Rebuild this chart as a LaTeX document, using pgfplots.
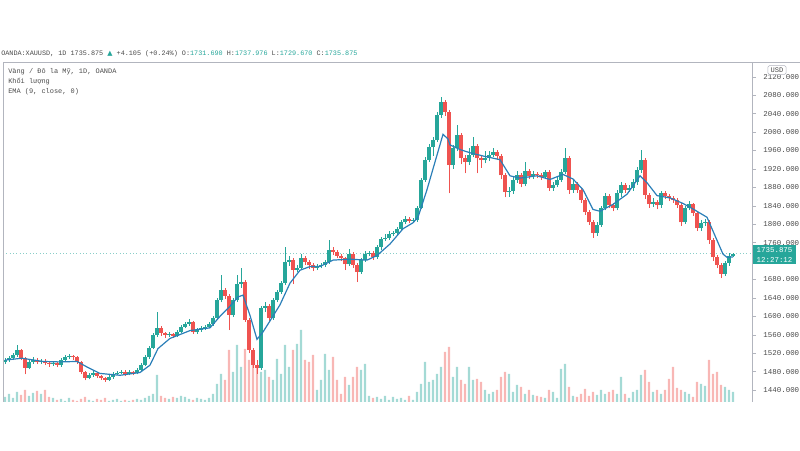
\documentclass[border=0pt]{standalone}
\usepackage{fontspec}
\setmainfont{DejaVu Sans}
\newfontfamily\monof{Liberation Mono}
\newfontfamily\symf{DejaVu Sans}
\usepackage{pgfplots}
\pgfplotsset{compat=1.18}
\usepackage{pgfplotstable}
\definecolor{upc}{HTML}{26A69A}
\definecolor{dnc}{HTML}{EF5350}
\definecolor{emac}{HTML}{2B7FB8}
\definecolor{framec}{HTML}{B2B5BE}
\definecolor{txt}{HTML}{4A4A4A}

% daily candles: index, open, high, low, close, volume (volume in px of bar height)
\pgfplotstableread{
i o h l c v
0 1500 1510 1496 1505 5
1 1505 1514 1501 1509 8
2 1509 1520 1505 1516 4
3 1516 1538 1512 1527 10
4 1527 1530 1505 1509 7
5 1509 1512 1474 1488 12
6 1488 1506 1485 1501 6
7 1501 1512 1497 1505 9
8 1505 1509 1496 1501 11
9 1501 1508 1497 1503 8
10 1503 1507 1494 1498 12
11 1498 1502 1490 1496 5
12 1496 1503 1492 1498 4
13 1498 1501 1489 1494 2
14 1494 1509 1491 1505 3
15 1505 1516 1502 1511 1
16 1511 1519 1508 1514 4
17 1514 1517 1506 1511 2
18 1511 1513 1497 1501 1
19 1501 1503 1475 1479 3
20 1479 1482 1461 1466 5
21 1466 1477 1463 1472 2
22 1472 1481 1469 1477 1
23 1477 1480 1466 1470 3
24 1470 1473 1462 1466 2
25 1466 1469 1458 1462 4
26 1462 1472 1459 1468 1
27 1468 1479 1465 1475 2
28 1475 1481 1472 1477 3
29 1477 1484 1474 1480 1
30 1480 1483 1471 1475 2
31 1475 1483 1472 1479 1
32 1479 1482 1472 1476 2
33 1476 1487 1474 1483 3
34 1483 1498 1481 1494 2
35 1494 1515 1492 1511 4
36 1511 1536 1508 1531 6
37 1531 1564 1528 1559 8
38 1559 1610 1555 1574 27
39 1574 1578 1558 1563 6
40 1563 1567 1554 1559 4
41 1559 1566 1555 1561 3
42 1561 1564 1553 1558 5
43 1558 1570 1555 1566 4
44 1566 1581 1563 1577 6
45 1577 1588 1574 1583 5
46 1583 1594 1579 1587 3
47 1587 1590 1562 1566 2
48 1566 1575 1562 1570 4
49 1570 1578 1566 1574 3
50 1574 1581 1571 1577 2
51 1577 1588 1574 1583 4
52 1583 1600 1580 1596 8
53 1596 1640 1593 1635 18
54 1635 1689 1630 1657 28
55 1657 1662 1638 1644 22
56 1644 1648 1570 1603 52
57 1603 1640 1598 1635 30
58 1635 1690 1631 1670 57
59 1670 1705 1662 1674 35
60 1674 1678 1588 1592 53
61 1592 1596 1520 1527 42
62 1527 1532 1488 1494 38
63 1494 1505 1475 1488 35
64 1488 1622 1484 1618 30
65 1618 1630 1610 1622 32
66 1622 1626 1590 1596 25
67 1596 1640 1592 1635 22
68 1635 1657 1630 1652 43
69 1652 1677 1648 1672 28
70 1672 1750 1668 1718 57
71 1718 1730 1710 1722 35
72 1722 1726 1670 1700 52
73 1700 1712 1696 1705 58
74 1705 1735 1700 1726 72
75 1726 1730 1712 1718 42
76 1718 1722 1702 1711 40
77 1711 1715 1698 1705 47
78 1705 1714 1700 1709 12
79 1709 1716 1704 1711 22
80 1711 1723 1707 1718 48
81 1718 1765 1714 1744 32
82 1744 1750 1733 1740 45
83 1740 1745 1726 1731 22
84 1731 1735 1720 1726 8
85 1726 1729 1700 1713 25
86 1713 1746 1709 1735 17
87 1735 1739 1705 1711 25
88 1711 1715 1674 1696 35
89 1696 1727 1692 1722 32
90 1722 1742 1718 1735 38
91 1735 1742 1730 1737 6
92 1737 1741 1723 1728 4
93 1728 1755 1725 1750 5
94 1750 1773 1745 1768 3
95 1768 1778 1763 1770 6
96 1770 1785 1766 1778 2
97 1778 1786 1774 1780 5
98 1780 1794 1776 1789 3
99 1789 1810 1786 1804 4
100 1804 1817 1800 1811 2
101 1811 1815 1802 1807 6
102 1807 1814 1803 1809 2
103 1809 1840 1805 1835 10
104 1835 1901 1832 1896 18
105 1896 1946 1892 1939 40
106 1939 1973 1935 1967 20
107 1967 1990 1948 1982 22
108 1982 2043 1978 2037 28
109 2037 2076 2030 2065 35
110 2065 2070 2035 2043 50
111 2043 2048 1867 1928 55
112 1928 1972 1920 1965 25
113 1965 2015 1958 1993 35
114 1993 1998 1930 1943 22
115 1943 1950 1910 1935 18
116 1935 1965 1928 1950 35
117 1950 1990 1945 1969 22
118 1969 1973 1910 1943 23
119 1943 1950 1922 1939 20
120 1939 1958 1932 1943 12
121 1943 1958 1938 1950 8
122 1950 1965 1945 1956 10
123 1956 1962 1940 1948 12
124 1948 1952 1898 1906 25
125 1906 1912 1858 1870 30
126 1870 1880 1860 1872 28
127 1872 1905 1866 1896 10
128 1896 1915 1890 1906 17
129 1906 1912 1880 1887 15
130 1887 1935 1882 1915 8
131 1915 1920 1898 1904 12
132 1904 1915 1898 1909 7
133 1909 1913 1900 1906 6
134 1906 1910 1896 1902 5
135 1902 1918 1898 1913 4
136 1913 1917 1872 1878 12
137 1878 1892 1873 1885 10
138 1885 1902 1880 1896 4
139 1896 1920 1891 1913 33
140 1913 1965 1908 1943 38
141 1943 1948 1866 1874 15
142 1874 1895 1868 1887 6
143 1887 1892 1868 1874 5
144 1874 1878 1846 1852 8
145 1852 1856 1820 1826 13
146 1826 1830 1798 1804 6
147 1804 1808 1770 1781 10
148 1781 1805 1775 1798 7
149 1798 1840 1794 1835 12
150 1835 1868 1830 1861 8
151 1861 1865 1835 1841 10
152 1841 1846 1828 1835 12
153 1835 1874 1830 1867 8
154 1867 1892 1860 1885 25
155 1885 1890 1868 1874 8
156 1874 1885 1870 1878 4
157 1878 1897 1872 1891 10
158 1891 1925 1886 1917 12
159 1917 1961 1912 1939 27
160 1939 1944 1855 1863 32
161 1863 1868 1836 1843 20
162 1843 1856 1838 1848 10
163 1848 1853 1832 1841 12
164 1841 1873 1836 1867 8
165 1867 1872 1855 1861 12
166 1861 1866 1850 1857 23
167 1857 1862 1846 1852 35
168 1852 1856 1835 1841 14
169 1841 1845 1797 1804 12
170 1804 1840 1800 1835 10
171 1835 1850 1830 1843 8
172 1843 1847 1818 1824 5
173 1824 1828 1785 1791 20
174 1791 1810 1786 1802 18
175 1802 1812 1796 1804 16
176 1804 1808 1758 1765 42
177 1765 1770 1720 1728 28
178 1728 1733 1704 1711 30
179 1711 1715 1683 1692 17
180 1692 1720 1688 1715 15
181 1715 1737 1710 1731 12
182 1731.69 1737.976 1729.67 1735.875 10
}\ohlc

\pgfplotsset{
  candle/.style n args={2}{draw=none, mark=none, forget plot,
    error bars/y dir=plus, error bars/y explicit, error bars/error mark=none,
    error bars/error bar style={line width=#1, draw=#2, solid}},
}

\begin{document}
\begin{tikzpicture}
\path[use as bounding box] (0,0) rectangle (600pt,337.5pt);

% volume pane (same x range, own scale)
\begin{axis}[at={(2.25pt,36pt)}, anchor=south west, scale only axis,
  width=561.75pt, height=255pt,
  xmin=-0.5, xmax=186.75, ymin=0, ymax=340, hide axis]
\addplot[ybar, bar width=0.6, bar shift=0pt, draw=none, fill=upc!42!white,
  restrict expr to domain={\thisrow{c}-\thisrow{o}}{0:10000}]
  table[x=i, y=v] {\ohlc};
\addplot[ybar, bar width=0.6, bar shift=0pt, draw=none, fill=dnc!42!white,
  restrict expr to domain={\thisrow{o}-\thisrow{c}}{0.0001:10000}]
  table[x=i, y=v] {\ohlc};
\end{axis}

% price pane
\begin{axis}[at={(2.25pt,36pt)}, anchor=south west, scale only axis,
  width=561.75pt, height=255pt,
  xmin=-0.5, xmax=186.75, ymin=1414, ymax=2152,
  axis x line=none, axis y line*=right,
  y axis line style={draw=framec, -},
  ytick={1440,1480,1520,1560,1600,1640,1680,1760,1800,1840,1880,1920,1960,2000,2040,2080,2120},
  tick align=outside, major tick length=3pt,
  ytick style={draw=framec},
  /pgf/number format/assume math mode=true,
  yticklabel={\pgfmathprintnumber[fixed,fixed zerofill,precision=3,1000 sep={}]{\tick}},
  yticklabel style={font=\monof\fontsize{5.6}{6}\selectfont, text=txt, xshift=2pt},
]
% last price line
\addplot[upc!55, dotted, line width=0.5pt] coordinates {(-0.5,1735.875) (186.75,1735.875)};

% wicks
\addplot[candle={0.7pt}{upc},
  restrict expr to domain={\thisrow{c}-\thisrow{o}}{0:10000}]
  table[x=i, y=l, y error plus expr=\thisrow{h}-\thisrow{l}] {\ohlc};
\addplot[candle={0.7pt}{dnc},
  restrict expr to domain={\thisrow{o}-\thisrow{c}}{0.0001:10000}]
  table[x=i, y=l, y error plus expr=\thisrow{h}-\thisrow{l}] {\ohlc};
% bodies
\addplot[candle={2.3pt}{upc},
  restrict expr to domain={\thisrow{c}-\thisrow{o}}{0:10000}]
  table[x=i, y=o, y error plus expr=\thisrow{c}-\thisrow{o}] {\ohlc};
\addplot[candle={2.3pt}{dnc},
  restrict expr to domain={\thisrow{o}-\thisrow{c}}{0.0001:10000}]
  table[x=i, y=c, y error plus expr=\thisrow{o}-\thisrow{c}] {\ohlc};

% EMA (9)
\addplot[emac, line width=0.9pt] coordinates {
(0,1505) (4.25,1509) (9.5,1502) (13.75,1501) (18,1502) (20.5,1490)
(23.75,1476) (28.75,1472) (33.75,1478) (36.25,1494) (38.25,1530)
(41.25,1552) (46.25,1569) (51.25,1575) (53.75,1600) (56.25,1622)
(58.25,1642) (59.5,1646) (61.25,1602) (63,1550) (64.5,1566)
(66.25,1590) (68.75,1625) (71.25,1672) (73.75,1700) (76.25,1708)
(78.75,1708) (82,1722) (86.25,1724) (90.5,1722) (93,1732)
(96.25,1757) (99.5,1790) (102,1803) (103.25,1815) (105.5,1875)
(108,1950) (109.5,1995) (110.75,1985) (111.25,1972) (113.75,1962)
(116.25,1955) (119.5,1948) (123.75,1940) (126.25,1905) (128.75,1900)
(133,1905) (136.25,1897) (139.5,1908) (142,1898) (144.5,1875)
(147,1832) (148.75,1828) (152,1843) (155.5,1865) (158.75,1905)
(160.5,1890) (163,1862) (166.25,1857) (169.5,1845) (172,1833)
(175.5,1815) (177,1785) (179.5,1735) (180.5,1728) (182,1729)
};
\end{axis}

\begin{scope}[x=0.75pt, y=-0.75pt, shift={(0pt,337.5pt)}]
% pane frame
\draw[framec, line width=0.6pt] (3,402) -- (3,62) -- (800,62);

% header and legend texts
\node[anchor=base west, inner sep=0, text=txt, font=\monof\fontsize{5.1}{6}\selectfont] at (1,56)
  {OANDA:XAUUSD, 1D 1735.875 {\color{upc}\symf ▲} +4.105 (+0.24\%) O:{\color{upc}1731.690} H:{\color{upc}1737.976} L:{\color{upc}1729.670} C:{\color{upc}1735.875}};
\node[anchor=west, inner sep=0, text=txt, font=\monof\fontsize{5.2}{6}\selectfont] at (8,72) {Vàng / Đô la Mỹ, 1D, OANDA};
\node[anchor=west, inner sep=0, text=txt, font=\monof\fontsize{5.2}{6}\selectfont] at (8,82) {Khối lượng};
\node[anchor=west, inner sep=0, text=txt, font=\monof\fontsize{5.2}{6}\selectfont] at (8,92) {EMA (9, close, 0)};

% price scale extras
\node[draw=framec, fill=white, rounded corners=1pt, inner xsep=2pt, inner ysep=1.5pt,
  text=txt, font=\monof\fontsize{5.3}{6}\selectfont] at (777,70) {USD};
\node[fill=upc, text=white, inner xsep=2.5pt, inner ysep=1.5pt, align=center, anchor=north west,
  font=\monof\fontsize{5.6}{7.5}\selectfont] at (753,245) {1735.875\\12:27:12};
\end{scope}
\end{tikzpicture}
\end{document}
